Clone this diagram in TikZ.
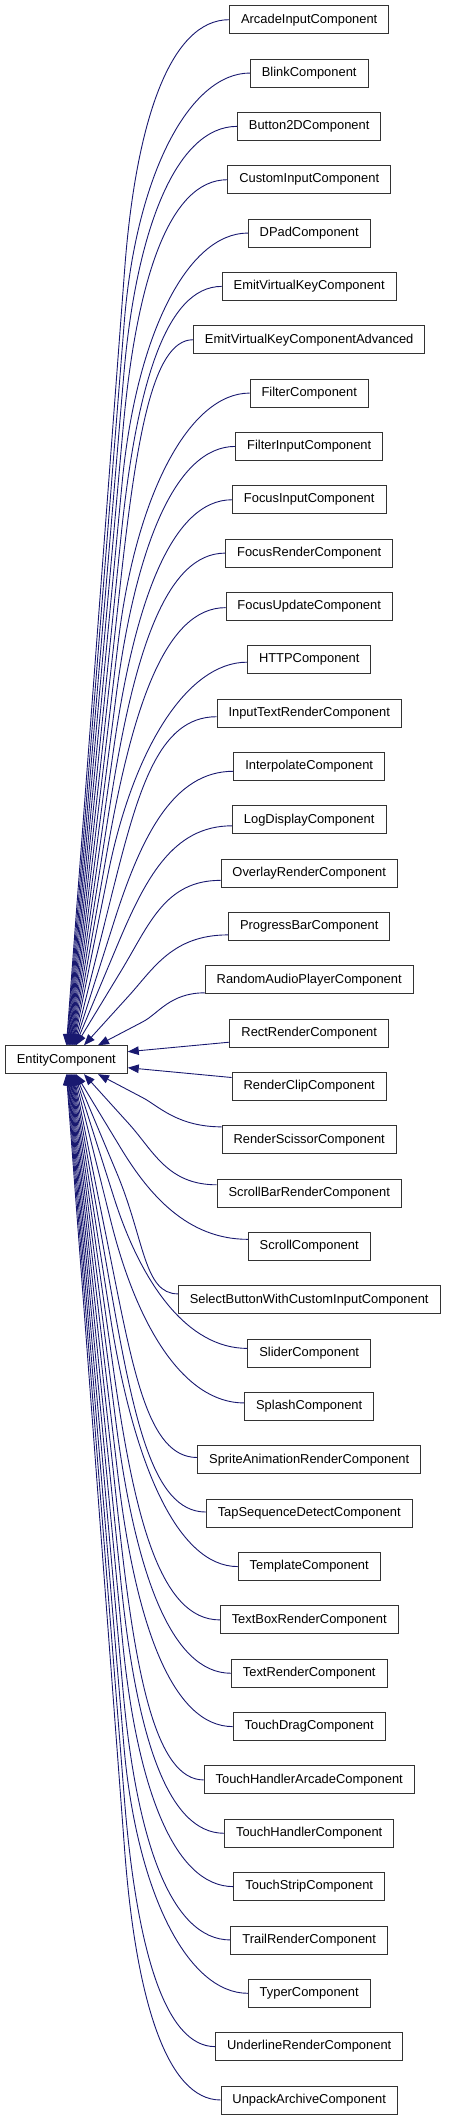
\documentclass[tikz,border=0pt]{standalone}
\usepackage{fontspec}
\setmainfont{Liberation Sans}
\usetikzlibrary{arrows.meta,calc}
\definecolor{edgecol}{HTML}{191970}
\definecolor{boxcol}{HTML}{333333}
\begin{document}
\begin{tikzpicture}[x=1pt,y=1pt,
  cls/.style={draw=boxcol, line width=0.9pt, fill=white,
    font=\fontsize{12.9}{15}\selectfont, inner xsep=11.5pt, inner ysep=0pt,
    minimum height=28pt, anchor=center},
  edge/.style={draw=edgecol, line width=0.9pt,
    arrows={Triangle[length=11pt,width=8.5pt,fill=edgecol]-}}]
\useasboundingbox (0,0) rectangle (448,-2120);
\node[cls] (EC) at (66.3,-1059.7) {EntityComponent};
\foreach \nm [count=\i] in {ArcadeInputComponent,BlinkComponent,Button2DComponent,CustomInputComponent,DPadComponent,EmitVirtualKeyComponent,EmitVirtualKeyComponentAdvanced,FilterComponent,FilterInputComponent,FocusInputComponent,FocusRenderComponent,FocusUpdateComponent,HTTPComponent,InputTextRenderComponent,InterpolateComponent,LogDisplayComponent,OverlayRenderComponent,ProgressBarComponent,RandomAudioPlayerComponent,RectRenderComponent,RenderClipComponent,RenderScissorComponent,ScrollBarRenderComponent,ScrollComponent,SelectButtonWithCustomInputComponent,SliderComponent,SplashComponent,SpriteAnimationRenderComponent,TapSequenceDetectComponent,TemplateComponent,TextBoxRenderComponent,TextRenderComponent,TouchDragComponent,TouchHandlerArcadeComponent,TouchHandlerComponent,TouchStripComponent,TrailRenderComponent,TyperComponent,UnderlineRenderComponent,UnpackArchiveComponent}{
  \pgfmathsetmacro\yc{19.7+(\i-1)*53.34}
  \node[cls] (c\i) at (309.2,-\yc) {\nm};
}
\foreach \i in {1,...,40}{
  \pgfmathsetmacro\yc{19.7+(\i-1)*53.34}
  \pgfmathtruncatemacro\sg{\i<=20 ? 1 : -1}
  \pgfmathtruncatemacro\k{\i<=20 ? 21-\i : \i-20}
  \ifnum\k=1
    \draw[edge] ([yshift={8pt*\sg}]EC.east) -- ([yshift={-9pt*\sg}]c\i.west);
  \else
    \pgfmathsetmacro\o{\k==2 ? 13 : max(0,12-1.2*\k)}
    \pgfmathsetmacro\ya{\yc+\sg*\o}
    \pgfmathsetmacro\Ey{\sg==1 ? 1045.3 : 1074.1}
    \pgfmathsetmacro\D{abs(\Ey-\ya)}
    \pgfmathsetmacro\Ex{\k==2 ? 98 : (\k==3 ? 84 : 76-(\k-4)*0.6)}
    \pgfmathsetmacro\Kd{min(250,0.55*\D)}
    \pgfmathsetmacro\A{\k<5 ? 100 : 77+max(0,8-\k)*5}
    \pgfmathsetmacro\fr{(\D-\Kd)/\D}
    \pgfmathsetmacro\Kx{\Ex+\A*\fr}
    \pgfmathsetmacro\Ky{\ya+\sg*\Kd}
    \pgfmathsetmacro\dxx{(\Kx-\Ex)/100}
    \pgfmathsetmacro\dyy{(\Ky-\Ey)/100}
    \pgfmathsetmacro\len{sqrt(\dxx*\dxx+\dyy*\dyy)}
    \pgfmathsetmacro\ux{\dxx/\len}
    \pgfmathsetmacro\uy{\dyy/\len}
    \pgfmathsetmacro\cc{0.6*\Kd}
    \path (c\i.west); \pgfgetlastxy{\wx}{\wy}
    \pgfmathsetmacro\wxn{\wx}
    \pgfmathsetmacro\cone{min(60,0.56*(\wxn-\Kx))}
    \pgfmathsetmacro\exs{\Ex-66.3}
    \ifnum\sg=1 \def\side{north}\else\def\side{south}\fi
    \draw[edge] ([xshift=\exs pt]EC.\side) -- (\Kx,-\Ky)
      .. controls ({\Kx+\cc*\ux},{-(\Ky+\cc*\uy)}) and ({\wxn-\cone},{-\ya})
      .. ([yshift={-1pt*\sg*\o}]c\i.west);
  \fi
}
\end{tikzpicture}
\end{document}
